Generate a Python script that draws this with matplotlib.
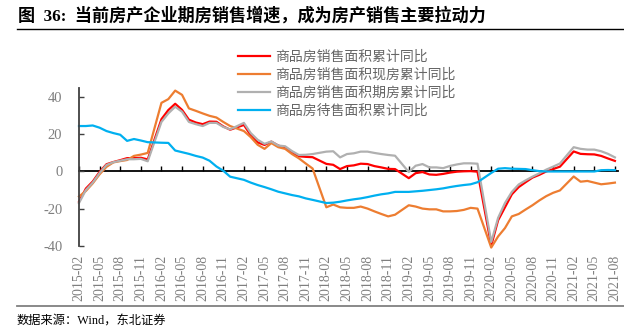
import matplotlib
matplotlib.use("Agg")
import matplotlib.pyplot as plt
from matplotlib.lines import Line2D

plt.rcParams['axes.unicode_minus'] = False

# ---------------- data ----------------
months = (
    [f"2015-{m:02d}" for m in range(2, 13)] +
    [f"2016-{m:02d}" for m in range(2, 13)] +
    [f"2017-{m:02d}" for m in range(2, 13)] +
    [f"2018-{m:02d}" for m in range(2, 13)] +
    [f"2019-{m:02d}" for m in range(2, 13)] +
    [f"2020-{m:02d}" for m in range(2, 13)] +
    [f"2021-{m:02d}" for m in range(2, 9)]
)

sales_area = [
    -16.3, -9.2, -5.4, -0.2, 3.9, 5.1, 6.1, 7.2, 7.2, 7.4, 6.5,
    28.2, 33.1, 36.5, 33.2, 27.9, 26.4, 25.5, 26.9, 26.8, 24.3, 22.5,
    25.1, 19.5, 15.7, 14.3, 16.1, 14.0, 12.7, 10.3, 8.2, 7.9, 7.7,
    4.1, 3.6, 1.3, 2.9, 3.3, 4.2, 4.0, 2.9, 2.2, 1.4, 1.3,
    -3.6, -0.9, -0.3, -1.6, -1.8, -1.3, -0.6, -0.1, 0.1, 0.2, -0.1,
    -39.9, -26.3, -19.3, -12.3, -8.4, -5.8, -3.3, -1.8, 0.0, 1.3, 2.6,
    10.8, 9.5, 9.3, 9.2, 8.4, 7.0, 5.7,
]

spot_sales = [
    -13.5, -10.5, -6.4, -1.5, 2.5, 4.9, 5.6, 6.2, 8.4, 9.1, 10.0,
    37.0, 39.0, 43.6, 41.3, 34.0, 32.7, 31.3, 30.0, 29.1, 26.7, 24.5,
    21.8, 18.5, 14.4, 12.2, 15.3, 13.1, 12.2, 9.4, 7.1, 4.3, 1.6,
    -19.3, -17.8, -19.3, -19.6, -19.6, -18.9, -20.0, -21.5, -22.9, -24.2, -23.3,
    -18.2, -18.9, -20.0, -20.4, -20.4, -21.5, -21.5, -21.3, -20.7, -19.6, -20.0,
    -41.0, -35.0, -30.5, -24.2, -22.9, -20.5, -18.2, -15.6, -13.3, -11.5, -10.2,
    -2.7, -5.5, -5.1, -6.0, -6.9, -6.5, -6.0,
]

presale_sales = [
    -17.0, -10.0, -6.0, -0.8, 3.5, 5.0, 5.8, 6.6, 6.6, 6.8, 5.5,
    26.7, 31.3, 34.9, 32.2, 26.7, 25.5, 24.5, 26.2, 26.2, 24.0, 22.7,
    26.2, 20.7, 17.1, 14.9, 16.2, 14.0, 13.6, 11.0, 8.9, 9.0, 9.4,
    10.7, 10.9, 7.6, 9.4, 9.8, 10.7, 10.7, 10.0, 9.4, 8.9, 8.5,
    -0.3, 3.1, 4.0, 2.2, 2.2, 1.8, 3.0, 3.8, 4.4, 4.4, 4.2,
    -38.0, -25.0, -17.0, -11.0, -7.0, -4.8, -2.8, -1.0, 1.0, 2.6, 4.3,
    13.1, 12.2, 11.8, 11.8, 10.9, 9.5, 7.6,
]

unsold_area = [
    24.5, 24.5, 24.8, 23.6, 21.8, 20.7, 19.8, 16.5, 17.5, 16.7, 15.8,
    15.5, 15.4, 11.3, 10.4, 9.5, 8.4, 7.5, 5.8, 2.7, 0.4, -2.8,
    -4.5, -6.0, -7.3, -8.4, -9.6, -10.9, -11.8, -12.7, -13.4, -14.5, -15.3,
    -17.0, -16.8, -16.3, -15.6, -15.0, -14.5, -13.8, -13.0, -12.3, -11.8, -11.0,
    -11.0, -10.7, -10.4, -10.0, -9.6, -9.1, -8.4, -7.8, -7.3, -6.9, -5.8,
    -0.8, 1.5, 1.8, 1.5, 1.4, 1.3, 0.7, 0.2, 0.0, 0.0, 0.0,
    0.0, 0.0, 0.0, 0.0, 0.7, 0.8, 0.7,
]

series_labels = [
    "商品房销售面积累计同比",
    "商品房销售面积现房累计同比",
    "商品房销售面积期房累计同比",
    "商品房待售面积累计同比",
]

tick_months = [f"{y}-{m:02d}" for y in range(2015, 2022) for m in (2, 5, 8, 11)
               if not (y == 2021 and m == 11)]

y_ticks = [-40, -20, 0, 20, 40]

title = "图  36:  当前房产企业期房销售增速，成为房产销售主要拉动力"
source = "数据来源：Wind，东北证券"


def month_pos(s):
    y, m = s.split("-")
    return (int(y) - 2015) * 12 + (int(m) - 2)


x = [month_pos(s) for s in months]
tick_x = [month_pos(s) for s in tick_months]

# ---------------- figure ----------------
W, H = 624, 332
fig = plt.figure(figsize=(W / 100, H / 100), dpi=100)
ax_left, ax_right, ax_top, ax_bottom = 79, 618, 88, 245.7
ax = fig.add_axes([ax_left / W, 1 - ax_bottom / H,
                   (ax_right - ax_left) / W, (ax_bottom - ax_top) / H])

colors = ["#FF0000", "#ED7D31", "#B0B0B0", "#00B0F0"]
data = [sales_area, spot_sales, presale_sales, unsold_area]
handles = []
for vals, c, lab in zip(data, colors, series_labels):
    ln, = ax.plot(x, vals, color=c, lw=1.6, label=lab, clip_on=False,
                  solid_joinstyle='round')
    handles.append(ln)

ax.set_xlim(0, 78.45)
ax.set_ylim(-40, 45)

for s in ("top", "right"):
    ax.spines[s].set_visible(False)
ax.spines["bottom"].set_position(("data", 0))
ax.spines["bottom"].set_color("black")
ax.spines["bottom"].set_linewidth(1.3)
ax.spines["bottom"].set_zorder(0.5)
ax.spines["left"].set_color("#404040")
ax.spines["left"].set_linewidth(1.3)

ax.set_xticks(tick_x)
ax.tick_params(axis="x", direction="in", length=3.5, width=1, color="black",
               labelbottom=False)
ax.set_yticks(y_ticks)
ax.set_yticklabels([str(v) for v in y_ticks], fontfamily="Liberation Serif",
                   fontsize=10.5, color="#7f7f7f")
ax.tick_params(axis="y", direction="in", length=3.5, width=1, color="#404040",
               pad=12)

sec = ax.secondary_xaxis(0.0)
sec.set_xticks(tick_x)
sec.set_xticklabels(tick_months, rotation=90, fontfamily="Liberation Serif",
                    fontsize=10, color="#7f7f7f")
sec.tick_params(axis="x", length=0, pad=6.5)
for sp in sec.spines.values():
    sp.set_visible(False)

leg = fig.legend(handles=handles, labels=series_labels, loc="upper left",
                 bbox_to_anchor=(238 / W, 1 - 49.5 / H), frameon=False,
                 prop={"family": ["Noto Sans CJK SC"], "size": 10},
                 labelcolor="#666666", handlelength=2.3, handletextpad=0.35,
                 labelspacing=0.3, borderpad=0, borderaxespad=0)

fig.text(18 / W, 1 - 15.7 / H, title, fontsize=12.3, fontweight="bold",
         va="center", ha="left", color="black",
         family=["Liberation Serif", "Noto Sans CJK SC"])
fig.add_artist(Line2D([17 / W, 1], [1 - 29.3 / H] * 2, color="black", lw=1.0))
fig.add_artist(Line2D([17 / W, 1], [1 - 305.5 / H] * 2, color="#808080", lw=1.3))
fig.text(17 / W, 1 - 321.5 / H, source, fontsize=8.8, va="center", ha="left",
         color="black", family=["Liberation Serif", "Noto Sans CJK SC"])

fig.savefig("out.png", dpi=100)
